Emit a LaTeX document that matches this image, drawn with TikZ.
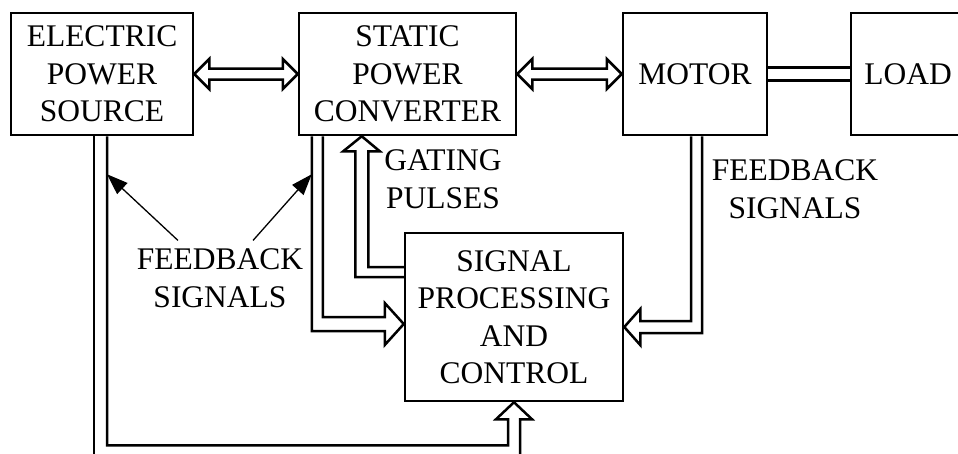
\documentclass[tikz,border=0pt]{standalone}
\usepackage{fontspec}
\setmainfont{Liberation Serif}
\usetikzlibrary{calc,arrows.meta}
\begin{document}
\begin{tikzpicture}[x=1pt,y=-1pt,
  font=\fontsize{31.5}{37.5}\selectfont,
  block/.style={draw,line width=2.5pt,inner sep=0pt,align=center},
  pipe/.style={draw,line width=2.5pt,line join=miter},
  label/.style={inner sep=0pt,align=center},
  pointer/.style={line width=1.3pt,-{Triangle[length=21pt,width=15pt]}}]
\useasboundingbox (0,0) rectangle (958,453);
\clip (0,0) rectangle (958,453);

% blocks
\node[block,minimum width=182pt,minimum height=122pt] (eps) at (102,74) {ELECTRIC\\POWER\\SOURCE};
\node[block,minimum width=217pt,minimum height=122pt] (spc) at (407.5,74) {STATIC\\POWER\\CONVERTER};
\node[block,minimum width=144pt,minimum height=122pt] (mot) at (695,74) {MOTOR};
\node[block,minimum width=114pt,minimum height=122pt] (load) at (908,74) {LOAD};
\node[block,minimum width=218pt,minimum height=168pt] (spcn) at (514,317) {SIGNAL\\PROCESSING\\AND\\CONTROL};

% labels
\node[label] (gate) at (443,179) {GATING\\PULSES};
\node[label] (fbm) at (795,189) {FEEDBACK\\SIGNALS};
\node[label] (fbl) at (220,278) {FEEDBACK\\SIGNALS};

% power flow: source <-> converter <-> motor
\draw[pipe] (eps.east) -- ++(15,-15) -- ++(0,9.5) -- ($(spc.west)+(-15,-5.5)$) -- ++(0,-9.5)
  -- (spc.west) -- ++(-15,15) -- ++(0,-9.5) -- ($(eps.east)+(15,5.5)$) -- ++(0,9.5) -- cycle;
\draw[pipe] (spc.east) -- ++(15,-15) -- ++(0,9.5) -- ($(mot.west)+(-15,-5.5)$) -- ++(0,-9.5)
  -- (mot.west) -- ++(-15,15) -- ++(0,-9.5) -- ($(spc.east)+(15,5.5)$) -- ++(0,9.5) -- cycle;

% shaft: motor to load
\draw[pipe] ($(mot.east)+(0,-6.5)$) -- ($(load.west)+(0,-6.5)$);
\draw[pipe] ($(mot.east)+(0,6.5)$) -- ($(load.west)+(0,6.5)$);

% source feedback channel into the controller
\draw[pipe] ($(eps.south)+(-8,0)$) -- ++(0,340);
\draw[pipe] ($(eps.south)+(5,0)$) |- ($(spcn.south)+(-6,43)$) -- ++(0,-26) -- ++(-12,0)
  -- (spcn.south) -- ++(18,17) -- ++(-12,0) -- ++(0,45);
\coordinate (tipl) at ($(eps.south)+(5,38)$);

% converter feedback channel into the controller
\draw[pipe] ($(spc.south west)+(14,0)$) |- ($(spcn.west)+(-19,14)$) -- ++(0,14)
  -- ($(spcn.west)+(0,7)$) -- ++(-19,-21) -- ++(0,14) -| ($(spc.south west)+(25,0)$);
\coordinate (tipr) at ($(spc.south west)+(14,38)$);

% gating pulses from the controller to the converter
\draw[pipe] ($(spcn.west)+(0,-40)$) -| ($(spc.south west)+(57.5,15)$) -- ++(-12,0)
  -- ($(spc.south west)+(64,0)$) -- ++(18,15) -- ++(-11.5,0) |- ($(spcn.west)+(0,-50)$);

% motor feedback into the controller
\draw[pipe] ($(mot.south)+(-4,0)$) |- ($(spcn.east)+(16,4)$) -- ++(0,-12)
  -- ($(spcn.east)+(0,10)$) -- ++(16,18) -- ++(0,-12) -| ($(mot.south)+(7,0)$);

% pointers from the feedback label
\draw[pointer] ($(fbl.north)+(-42,-8)$) -- (tipl);
\draw[pointer] ($(fbl.north)+(33,-8)$) -- (tipr);
\end{tikzpicture}
\end{document}
